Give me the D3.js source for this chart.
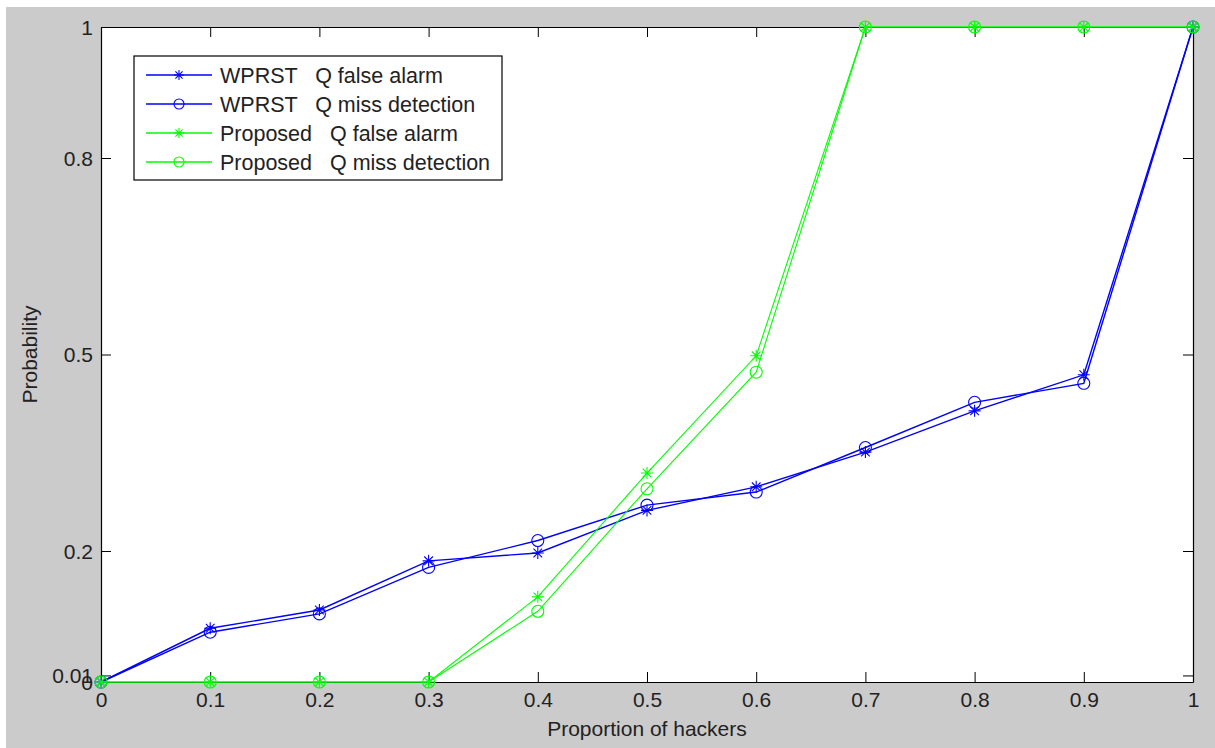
<!DOCTYPE html>
<html>
<head>
<meta charset="utf-8">
<script src="https://cdn.jsdelivr.net/npm/d3@7"></script>
<style>
  body { margin: 0; background: #fff; }
  svg { display: block; font-family: "Liberation Sans", Arial, sans-serif; }
</style>
</head>
<body>
<div id="chart"></div>
<script>
// data
const xValues = [0, 0.1, 0.2, 0.3, 0.4, 0.5, 0.6, 0.7, 0.8, 0.9, 1];
const wprstFalseAlarm = [0, 0.082, 0.110, 0.185, 0.197, 0.262, 0.298, 0.351, 0.414, 0.469, 1];
const wprstMissDetection = [0, 0.076, 0.104, 0.175, 0.216, 0.270, 0.290, 0.358, 0.427, 0.456, 1];
const proposedFalseAlarm = [0, 0, 0, 0, 0.130, 0.319, 0.498, 1, 1, 1, 1];
const proposedMissDetection = [0, 0, 0, 0, 0.108, 0.295, 0.473, 1, 1, 1, 1];
const xTicks = [0, 0.1, 0.2, 0.3, 0.4, 0.5, 0.6, 0.7, 0.8, 0.9, 1];
const yTicks = [0, 0.01, 0.2, 0.5, 0.8, 1];
const yTickLabels = ['0', '0.01', '0.2', '0.5', '0.8', '1'];

const series = [
  { name: 'WPRST   Q false alarm', values: wprstFalseAlarm, color: '#0000ff', marker: 'star', lw: 1.4 },
  { name: 'WPRST   Q miss detection', values: wprstMissDetection, color: '#0000ff', marker: 'circle', lw: 1.4 },
  { name: 'Proposed   Q false alarm', values: proposedFalseAlarm, color: '#00ff00', marker: 'star', lw: 1.1 },
  { name: 'Proposed   Q miss detection', values: proposedMissDetection, color: '#00ff00', marker: 'circle', lw: 1.1 }
];

const W = 1215, H = 748;
const margin = { left: 101, top: 27, right: 22, bottom: 66 };
const iw = W - margin.left - margin.right;
const ih = H - margin.top - margin.bottom;
const font = '"Liberation Sans", Arial, sans-serif';
const textColor = '#222';

const svg = d3.select('#chart').append('svg').attr('width', W).attr('height', H);

// figure background (grey, white strip top/left)
svg.append('rect').attr('x', 6).attr('y', 7).attr('width', W - 6).attr('height', H - 7).attr('fill', '#cbcbcb');

const g = svg.append('g').attr('transform', `translate(${margin.left},${margin.top})`);

const x = d3.scaleLinear().domain([0, 1]).range([0, iw]);
const y = d3.scaleLinear().domain([0, 1]).range([ih, 0]);

g.append('rect').attr('width', iw).attr('height', ih).attr('fill', '#fff');

// axes, ticks pointing inward (matlab box)
const tk = 10;
const xb = g.append('g').attr('transform', `translate(0,${ih})`)
  .call(d3.axisBottom(x).tickValues(xTicks).tickSizeInner(-tk).tickSizeOuter(0).tickPadding(10).tickFormat(d3.format('')));
const xt = g.append('g')
  .call(d3.axisTop(x).tickValues(xTicks).tickSizeInner(-tk).tickSizeOuter(0).tickFormat(''));
const yl = g.append('g')
  .call(d3.axisLeft(y).tickValues(yTicks).tickSizeInner(-tk).tickSizeOuter(0).tickPadding(8)
    .tickFormat((d, i) => yTickLabels[i]));
const yr = g.append('g').attr('transform', `translate(${iw},0)`)
  .call(d3.axisRight(y).tickValues(yTicks).tickSizeInner(-tk).tickSizeOuter(0).tickFormat(''));

[xb, xt, yl, yr].forEach(a => {
  a.select('.domain').attr('stroke', '#000').attr('stroke-width', 1.2);
  a.selectAll('.tick line').attr('stroke', '#000');
  a.selectAll('text').attr('font-size', 21).attr('fill', textColor).attr('font-family', font);
});
xb.selectAll('text').attr('dy', '0.71em');
yl.selectAll('text').attr('dy', '0.35em');

// lines
const line = d3.line().x((d, i) => x(xValues[i])).y(d => y(d));

function drawMarker(sel, type, color, r) {
  if (type === 'circle') {
    sel.append('circle').attr('r', r).attr('fill', 'none').attr('stroke', color).attr('stroke-width', 1.1);
  } else {
    const d = r * 0.72;
    sel.append('path')
      .attr('d', `M${-r},0H${r}M0,${-r}V${r}M${-d},${-d}L${d},${d}M${-d},${d}L${d},${-d}`)
      .attr('stroke', color).attr('stroke-width', 1.1).attr('fill', 'none');
  }
}

series.forEach(s => {
  g.append('path').datum(s.values).attr('d', line)
    .attr('fill', 'none').attr('stroke', s.color).attr('stroke-width', s.lw);
  const pts = g.append('g').selectAll('g').data(s.values).join('g')
    .attr('transform', (d, i) => `translate(${x(xValues[i])},${y(d)})`);
  pts.each(function () { drawMarker(d3.select(this), s.marker, s.color, 6); });
});

// legend
const lg = g.append('g').attr('transform', `translate(${134 - margin.left},${56 - margin.top})`);
lg.append('rect').attr('width', 368).attr('height', 124).attr('fill', '#fff')
  .attr('stroke', '#000').attr('stroke-width', 1.2);
series.forEach((s, i) => {
  const row = lg.append('g').attr('transform', `translate(0,${19 + i * 29})`);
  row.append('line').attr('x1', 12).attr('x2', 78).attr('stroke', s.color).attr('stroke-width', 1.3);
  const m = row.append('g').attr('transform', 'translate(45,0)');
  drawMarker(m, s.marker, s.color, 5);
  row.append('text').attr('x', 86).attr('dy', '0.35em').attr('font-size', 21.5).attr('fill', textColor)
    .attr('xml:space', 'preserve').style('white-space', 'pre').text(s.name);
});

// axis labels
svg.append('text').attr('x', margin.left + iw / 2).attr('y', 736).attr('text-anchor', 'middle')
  .attr('font-size', 21).attr('fill', textColor).text('Proportion of hackers');
svg.append('text').attr('transform', `translate(37,${margin.top + ih / 2}) rotate(-90)`)
  .attr('text-anchor', 'middle').attr('font-size', 21).attr('fill', textColor).text('Probability');
</script>
</body>
</html>
